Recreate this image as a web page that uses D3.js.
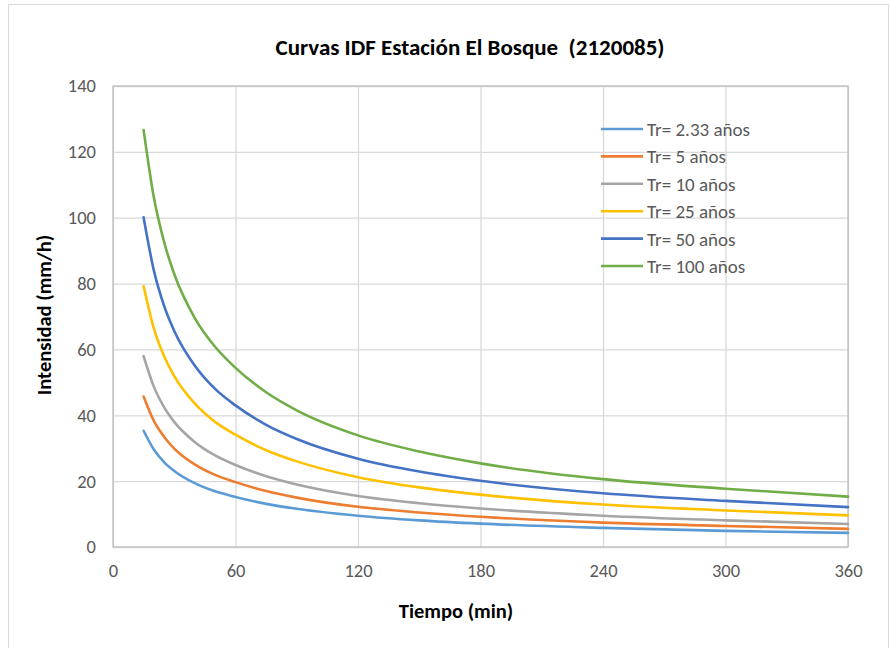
<!DOCTYPE html>
<html>
<head>
<meta charset="utf-8">
<script src="https://d3js.org/d3.v7.min.js"></script>
<style>
  body { margin: 0; background: #fff; }
  text { font-family: Carlito, "Liberation Sans Narrow", "Open Sans", sans-serif; }
</style>
</head>
<body>
<div id="idf-chart"></div>
<script>
// duraciones (min) y curvas
var tiempos = [15, 20, 25, 30, 40, 50, 60, 75, 90, 120, 150, 180, 240, 300, 360];
var tr233 = [35.3, 29.6, 25.8, 23.1, 19.4, 16.9, 15.2, 13.1, 11.6, 9.5, 8.1, 7.1, 5.8, 4.9, 4.3];
var tr5   = [45.7, 38.3, 33.5, 29.9, 25.1, 21.9, 19.7, 17.0, 15.0, 12.2, 10.5, 9.2, 7.4, 6.4, 5.5];
var tr10  = [58.0, 48.7, 42.5, 38.0, 31.9, 27.8, 24.9, 21.5, 19.0, 15.5, 13.3, 11.7, 9.5, 8.1, 7.0];
var tr25  = [79.2, 66.4, 58.0, 51.9, 43.6, 38.0, 34.1, 29.4, 26.0, 21.2, 18.1, 15.9, 12.9, 11.1, 9.6];
var tr50  = [100.1, 84.0, 73.3, 65.6, 55.1, 48.0, 43.0, 37.1, 32.8, 26.8, 22.9, 20.1, 16.3, 14.0, 12.1];
var tr100 = [126.6, 106.2, 92.7, 82.9, 69.6, 60.8, 54.4, 47.0, 41.5, 33.9, 29.0, 25.4, 20.6, 17.7, 15.3];
var nombres = ["Tr= 2.33 años", "Tr= 5 años", "Tr= 10 años", "Tr= 25 años", "Tr= 50 años", "Tr= 100 años"];
var xTicks = [0, 60, 120, 180, 240, 300, 360];
var yTicks = [0, 20, 40, 60, 80, 100, 120, 140];

function drawIDF(){
  var W = 891, H = 648,
      margin = { top: 86, right: 43, bottom: 101, left: 113 },
      width = W - margin.left - margin.right,
      height = H - margin.top - margin.bottom,
      colors = ['#5B9BD5', '#ED7D31', '#A5A5A5', '#FFC000', '#4472C4', '#70AD47'],
      series = [tr233, tr5, tr10, tr25, tr50, tr100];

  var svg = d3.select("#idf-chart").append("svg")
      .attr("width", W)
      .attr("height", H);

  // borde del area del grafico
  svg.append("rect")
      .attr("x", 8.5).attr("y", 4.5)
      .attr("width", 880).attr("height", 700)
      .style("fill", "#fff")
      .style("stroke", "#d9d9d9");

  var x = d3.scaleLinear().domain([0, 360]).range([0, width]);
  var y = d3.scaleLinear().domain([0, 140]).range([height, 0]);

  var g = svg.append("g")
      .attr("transform", "translate(" + margin.left + "," + margin.top + ")");

  // grilla
  g.append("g")
      .attr("transform", "translate(0," + height + ")")
      .call(d3.axisBottom(x).tickValues(xTicks).tickSize(-height).tickFormat(""))
      .call(function(s){ s.select(".domain").remove(); })
      .selectAll("line").style("stroke", "#d9d9d9").style("stroke-width", 1.3);

  g.append("g")
      .call(d3.axisLeft(y).tickValues(yTicks).tickSize(-width).tickFormat(""))
      .call(function(s){ s.select(".domain").remove(); })
      .selectAll("line").style("stroke", "#d9d9d9").style("stroke-width", 1.3);

  // marco del area de trazado
  g.append("rect")
      .attr("width", width).attr("height", height)
      .style("fill", "none")
      .style("stroke", "#bfbfbf")
      .style("stroke-width", 1.3);

  // etiquetas de ejes
  var xAxis = g.append("g")
      .attr("transform", "translate(0," + height + ")")
      .call(d3.axisBottom(x).tickValues(xTicks).tickSize(0).tickPadding(17));
  xAxis.select(".domain").remove();
  xAxis.selectAll("text")
      .style("font-size", "18.5px")
      .style("fill", "#595959");

  var yAxis = g.append("g")
      .call(d3.axisLeft(y).tickValues(yTicks).tickSize(0).tickPadding(17));
  yAxis.select(".domain").remove();
  yAxis.selectAll("text")
      .style("font-size", "18.5px")
      .style("fill", "#595959");

  // curvas
  var line = d3.line()
      .x(function(d, i){ return x(tiempos[i]); })
      .y(function(d){ return y(d); })
      .curve(d3.curveMonotoneX);

  g.selectAll(".curva")
      .data(series)
      .enter().append("path")
      .attr("class", "curva")
      .attr("d", line)
      .style("fill", "none")
      .style("stroke", function(d, i){ return colors[i]; })
      .style("stroke-width", 2.6)
      .style("stroke-linecap", "round");

  // leyenda
  var legend = svg.selectAll(".leyenda")
      .data(nombres)
      .enter().append("g")
      .attr("class", "leyenda")
      .attr("transform", function(d, i){ return "translate(601," + (129 + i * 27.4) + ")"; });

  legend.append("line")
      .attr("x1", 0).attr("x2", 42)
      .style("stroke", function(d, i){ return colors[i]; })
      .style("stroke-width", 2.6);

  legend.append("text")
      .attr("x", 46)
      .attr("y", 7)
      .text(function(d){ return d; })
      .style("font-size", "19px")
      .style("fill", "#595959");

  // titulos
  svg.append("text")
      .attr("x", 470).attr("y", 55)
      .style("text-anchor", "middle")
      .style("font-size", "23px")
      .style("font-weight", "bold")
      .style("white-space", "pre")
      .style("fill", "#000")
      .text("Curvas IDF Estación El Bosque  (2120085)");

  svg.append("text")
      .attr("x", 456).attr("y", 618)
      .style("text-anchor", "middle")
      .style("font-size", "20.5px")
      .style("font-weight", "bold")
      .text("Tiempo (min)");

  svg.append("text")
      .attr("transform", "translate(51,315) rotate(-90)")
      .style("text-anchor", "middle")
      .style("font-size", "20.5px")
      .style("font-weight", "bold")
      .text("Intensidad (mm/h)");
};

drawIDF();
</script>
</body>
</html>
